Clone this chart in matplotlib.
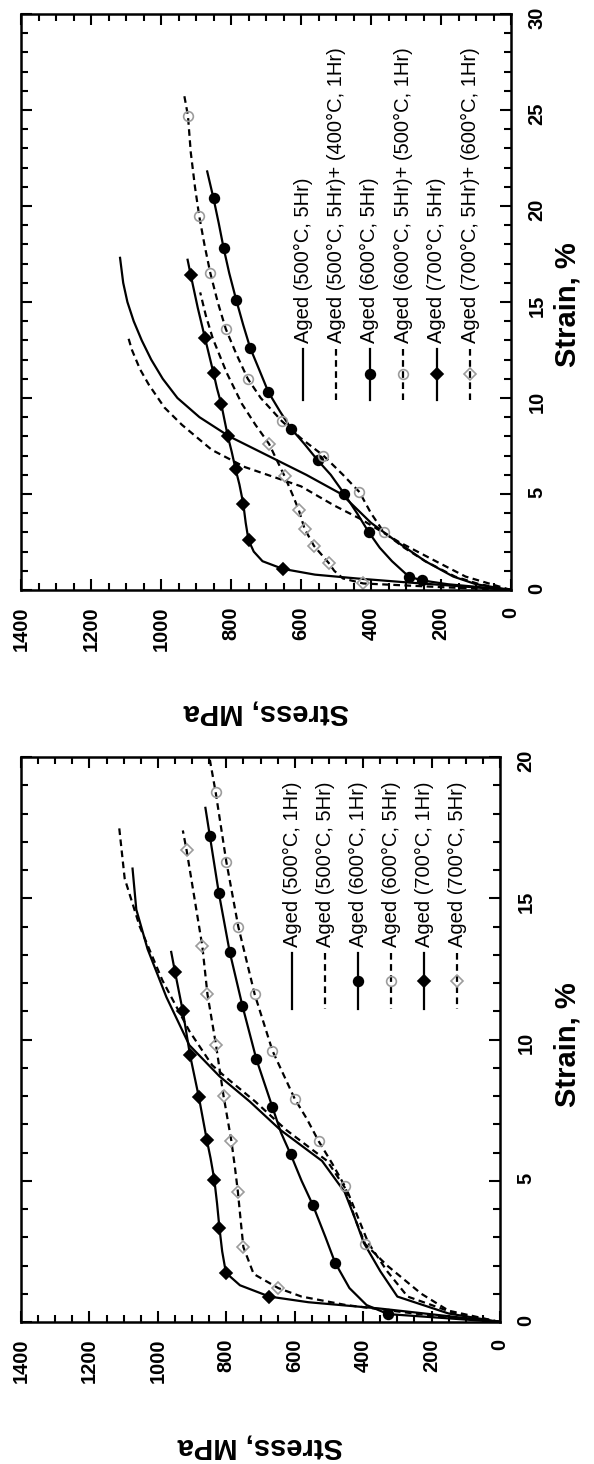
import matplotlib
matplotlib.use('Agg')
import matplotlib.pyplot as plt
from matplotlib.ticker import MultipleLocator

plt.rcParams['font.family'] = ['Liberation Sans', 'DejaVu Sans']

# ---------------- data: panel with strain 0-30 (top of the rotated page) ----------------
top_labels = ["Aged (500°C, 5Hr)", "Aged (500°C, 5Hr)+ (400°C, 1Hr)", "Aged (600°C, 5Hr)",
              "Aged (600°C, 5Hr)+ (500°C, 1Hr)", "Aged (700°C, 5Hr)", "Aged (700°C, 5Hr)+ (600°C, 1Hr)"]

A_strain = [0, 0.3, 0.7, 1.5, 2.5, 3.5, 4.3, 5.0, 6.0, 7.0, 8.0, 9.0, 10.0, 11.0, 12.0, 13.0, 14.0, 15.0, 16.0, 17.3]
A_stress = [0, 100, 165, 245, 325, 400, 445, 485, 585, 695, 805, 890, 953, 995, 1028, 1055, 1078, 1096, 1108, 1117]

B_strain = [0, 0.7, 1.5, 2.5, 3.7, 4.4, 5.4, 5.9, 6.4, 7.3, 8.6, 9.5, 10.7, 11.5, 12.5, 13.3]
B_stress = [0, 130, 215, 320, 430, 505, 600, 680, 760, 855, 940, 990, 1035, 1060, 1083, 1096]

C_strain = [0, 0.3, 0.5, 0.7, 1.5, 2.2, 3.0, 4.0, 5.0, 6.0, 6.75, 7.6, 8.4, 9.3, 10.3, 11.5, 12.6, 13.8, 15.1, 16.5, 17.8, 19.1, 20.4, 21.8]
C_stress = [0, 180, 254, 292, 340, 375, 406, 440, 476, 515, 552, 590, 628, 660, 693, 720, 745, 765, 785, 805, 821, 835, 850, 868]
C_mark = [2, 3, 6, 8, 10, 12, 14, 16, 18, 20, 22]

D_strain = [0, 0.3, 0.7, 1.5, 2.2, 3.0, 4.0, 5.1, 6.0, 7.0, 7.9, 8.8, 10.0, 11.0, 12.3, 13.6, 15.0, 16.5, 18.0, 19.5, 21.0, 22.8, 24.7, 25.9]
D_stress = [0, 90, 160, 245, 305, 363, 400, 433, 480, 536, 600, 655, 715, 752, 785, 815, 838, 859, 876, 891, 903, 915, 923, 935]
D_mark = [5, 7, 9, 11, 13, 15, 17, 19, 22]

E_strain = [0, 0.2, 0.4, 0.6, 0.8, 1.1, 1.5, 2.0, 2.6, 3.5, 4.5, 5.5, 6.3, 7.2, 8.0, 8.8, 9.7, 10.5, 11.3, 12.2, 13.1, 14.7, 16.4, 17.2]
E_stress = [0, 150, 300, 440, 560, 652, 710, 735, 750, 758, 765, 776, 787, 798, 809, 818, 828, 840, 850, 862, 874, 895, 915, 924]
E_mark = [5, 8, 10, 12, 14, 16, 18, 20, 22]

F_strain = [0, 0.15, 0.34, 0.6, 1.0, 1.39, 2.3, 3.2, 4.15, 5.0, 5.93, 6.8, 7.6, 8.6, 9.7, 11.3, 13.1, 14.3, 15.5]
F_stress = [0, 200, 422, 480, 505, 520, 563, 590, 606, 625, 647, 670, 691, 730, 769, 812, 852, 872, 888]
F_mark = [2, 5, 6, 7, 8, 10, 12]

# ---------------- data: panel with strain 0-20 (bottom of the rotated page) ----------------
bot_labels = ["Aged (500°C, 1Hr)", "Aged (500°C, 5Hr)", "Aged (600°C, 1Hr)",
              "Aged (600°C, 5Hr)", "Aged (700°C, 1Hr)", "Aged (700°C, 5Hr)"]

a_strain = [0, 0.3, 0.9, 1.8, 2.8, 3.7, 4.6, 5.7, 6.8, 7.8, 8.7, 9.8, 11.5, 13.2, 14.6, 16.05]
a_stress = [0, 150, 300, 350, 398, 425, 454, 520, 642, 731, 820, 908, 975, 1030, 1063, 1074]

b_strain = [0, 0.3, 0.9, 1.8, 2.8, 3.7, 4.6, 5.7, 6.8, 7.8, 8.7, 9.1, 10.3, 12.1, 14.0, 15.7, 17.5]
b_stress = [0, 130, 270, 330, 385, 415, 445, 505, 625, 715, 805, 842, 908, 987, 1053, 1097, 1113]

c_strain = [0, 0.28, 0.6, 1.2, 2.1, 3.0, 4.14, 5.0, 5.94, 6.7, 7.6, 9.3, 11.2, 13.1, 15.2, 17.2, 18.2]
c_stress = [0, 327, 390, 440, 482, 510, 547, 580, 612, 640, 665, 712, 753, 790, 822, 848, 861]
c_mark = [1, 4, 6, 8, 10, 11, 12, 13, 14, 15]

d_strain = [0, 0.4, 1.0, 2.0, 2.76, 3.7, 4.8, 5.6, 6.4, 7.2, 7.9, 9.6, 11.6, 14.0, 16.3, 18.75, 19.9]
d_stress = [0, 150, 230, 330, 394, 425, 453, 490, 530, 565, 600, 665, 717, 765, 800, 831, 848]
d_mark = [4, 6, 8, 10, 11, 12, 13, 14, 15]

e_strain = [0, 0.3, 0.48, 0.7, 0.9, 1.3, 1.74, 2.5, 3.33, 4.2, 5.04, 5.8, 6.45, 7.95, 9.45, 11.0, 12.4, 13.1]
e_stress = [0, 220, 354, 560, 674, 760, 801, 812, 820, 827, 835, 846, 857, 880, 906, 927, 950, 961]
e_mark = [4, 6, 8, 10, 12, 13, 14, 15, 16]

f_strain = [0, 0.3, 0.6, 0.9, 1.2, 1.7, 2.65, 3.6, 4.6, 5.5, 6.4, 8.0, 9.8, 11.6, 13.3, 15.0, 16.7, 17.4]
f_stress = [0, 250, 450, 580, 648, 720, 750, 758, 766, 775, 785, 808, 830, 855, 870, 893, 916, 927]
f_mark = [4, 6, 8, 10, 11, 12, 13, 14, 16]

GRAY = '#9c9c9c'
STYLES = [
    dict(ls='-', marker=None),
    dict(ls=(0, (3, 2)), marker=None),
    dict(ls='-', marker='o', mfc='k', mec='k', ms=7),
    dict(ls=(0, (3, 2)), marker='o', mfc='none', mec=GRAY, ms=7),
    dict(ls='-', marker='D', mfc='k', mec='k', ms=6.5),
    dict(ls=(0, (3, 2)), marker='D', mfc='none', mec=GRAY, ms=6.5),
]
LW = 1.6
TICK_FS = 14.5
LABEL_FS = 21
LEG_FS = 14.5

W, H = 594, 1464
fig = plt.figure(figsize=(W / 100, H / 100), dpi=100)


def make_axes(x0, x1, y0, y1, strain_max):
    ax = fig.add_axes([x0 / W, 1 - y1 / H, (x1 - x0) / W, (y1 - y0) / H])
    ax.set_xlim(1400, 0)
    ax.set_ylim(0, strain_max)
    ax.xaxis.set_major_locator(MultipleLocator(200))
    ax.xaxis.set_minor_locator(MultipleLocator(50))
    ax.yaxis.set_major_locator(MultipleLocator(5))
    ax.yaxis.set_minor_locator(MultipleLocator(1))
    ax.tick_params(which='both', direction='in', top=True, right=True, left=True, bottom=True,
                   labelleft=False, labelright=True, width=1.5, color='k')
    ax.tick_params(which='major', length=8)
    ax.tick_params(which='minor', length=5)
    ax.tick_params(axis='x', labelrotation=90, pad=12, labelsize=TICK_FS)
    ax.tick_params(axis='y', labelrotation=90, pad=12, labelsize=TICK_FS)
    for lab in ax.get_xticklabels() + ax.get_yticklabels():
        lab.set_fontweight('bold')
    for sp in ax.spines.values():
        sp.set_linewidth(1.8)
    return ax


def draw_series(ax, stress, strain, style, markevery):
    kw = dict(color='k', lw=LW, ls=style['ls'])
    if style['marker']:
        kw.update(marker=style['marker'], mfc=style['mfc'], mec=style['mec'], ms=style['ms'],
                  mew=1.2, markevery=markevery)
    ax.plot(stress, strain, **kw)


def draw_legend(ax, labels, x0, dx, yl0, yl1, ytext):
    for i, (lab, st) in enumerate(zip(labels, STYLES)):
        x = x0 + i * dx
        ax.plot([x, x], [yl0, yl1], transform=ax.transAxes, clip_on=False,
                color='k', lw=LW, ls=st['ls'])
        if st['marker']:
            ax.plot([x], [(yl0 + yl1) / 2], transform=ax.transAxes, clip_on=False,
                    marker=st['marker'], mfc=st['mfc'], mec=st['mec'], ms=st['ms'], mew=1.2, ls='none')
        ax.text(x, ytext, lab, rotation=90, ha='center', va='bottom', transform=ax.transAxes,
                fontsize=LEG_FS)


# ---- top panel ----
ax1 = make_axes(21, 511, 14, 590, 30)
top_series = [(A_stress, A_strain, None), (B_stress, B_strain, None), (C_stress, C_strain, C_mark),
              (D_stress, D_strain, D_mark), (E_stress, E_strain, E_mark), (F_stress, F_strain, F_mark)]
for (s, e, m), st in zip(top_series, STYLES):
    draw_series(ax1, s, e, st, m)
draw_legend(ax1, top_labels, (303 - 21) / 490, 33.4 / 490, (590 - 349) / 576, (590 - 400) / 576,
            (590 - 343) / 576)
fig.text(266 / W, 1 - 713 / H, "Stress, MPa", rotation=180, ha='center', va='center',
         fontsize=LABEL_FS, fontweight='bold')
fig.text(568 / W, 1 - 305 / H, "Strain, %", rotation=90, ha='center', va='center',
         fontsize=LABEL_FS, fontweight='bold')

# ---- bottom panel ----
ax2 = make_axes(21, 500, 757, 1322, 20)
bot_series = [(a_stress, a_strain, None), (b_stress, b_strain, None), (c_stress, c_strain, c_mark),
              (d_stress, d_strain, d_mark), (e_stress, e_strain, e_mark), (f_stress, f_strain, f_mark)]
for (s, e, m), st in zip(bot_series, STYLES):
    draw_series(ax2, s, e, st, m)
draw_legend(ax2, bot_labels, (292 - 21) / 479, 33 / 479, (1322 - 953) / 565, (1322 - 1009) / 565,
            (1322 - 947) / 565)
fig.text(260 / W, 1 - 1447 / H, "Stress, MPa", rotation=180, ha='center', va='center',
         fontsize=LABEL_FS, fontweight='bold')
fig.text(568 / W, 1 - 1045 / H, "Strain, %", rotation=90, ha='center', va='center',
         fontsize=LABEL_FS, fontweight='bold')

fig.savefig('out.png', dpi=100, facecolor='white')
